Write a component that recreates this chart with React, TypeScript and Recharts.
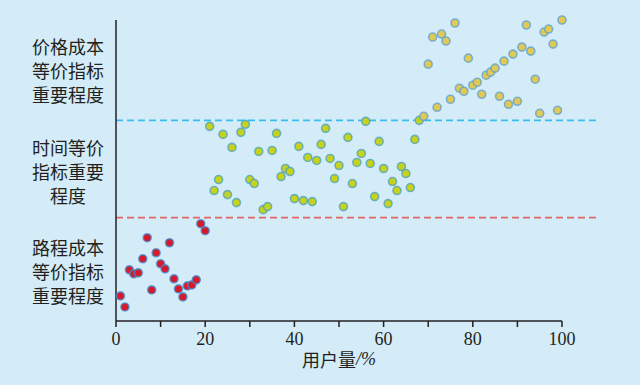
import { ScatterChart, Scatter, XAxis, YAxis, ReferenceLine, Label } from 'recharts'

// x: share of users (%), y: importance band score (0-1 route, 1-2 time, 2-3 price)
const routeShare = [1, 2, 3, 4, 5, 6, 7, 8, 9, 10, 11, 12, 13, 14, 15, 16, 17, 18, 19, 20]
const routeScore = [0.25, 0.14, 0.51, 0.47, 0.48, 0.62, 0.83, 0.31, 0.68, 0.57, 0.52, 0.78, 0.42, 0.32, 0.24, 0.35, 0.36, 0.41, 0.97, 0.9]

const timeShare = [
  21, 22, 23, 24, 25, 26, 27, 28, 29, 30, 31, 32, 33, 34, 35, 36,
  37, 38, 39, 40, 41, 42, 43, 44, 45, 46, 47, 48, 49, 50, 51, 52,
  53, 54, 55, 56, 57, 58, 59, 60, 61, 62, 63, 64, 65, 66, 67, 68,
]
const timeScore = [
  1.94, 1.3, 1.41, 1.86, 1.26, 1.73, 1.18, 1.88, 1.96, 1.41, 1.37, 1.69, 1.11, 1.14, 1.7, 1.87,
  1.44, 1.52, 1.49, 1.22, 1.74, 1.2, 1.63, 1.19, 1.6, 1.76, 1.92, 1.62, 1.42, 1.55, 1.14, 1.83,
  1.37, 1.58, 1.67, 1.99, 1.57, 1.24, 1.79, 1.52, 1.17, 1.39, 1.3, 1.54, 1.47, 1.33, 1.81, 2.0,
]

const priceShare = [
  69, 70, 71, 72, 73, 74, 75, 76, 77, 78, 79, 80, 81, 82, 83, 84,
  85, 86, 87, 88, 89, 90, 91, 92, 93, 94, 95, 96, 97, 98, 99, 100,
]
const priceScore = [
  2.04, 2.56, 2.83, 2.13, 2.86, 2.79, 2.21, 2.97, 2.32, 2.29, 2.62, 2.35, 2.38, 2.26, 2.45, 2.48,
  2.52, 2.24, 2.59, 2.16, 2.66, 2.19, 2.73, 2.95, 2.69, 2.41, 2.07, 2.88, 2.91, 2.76, 2.1, 3.0,
]

const xTicks = [0, 10, 20, 30, 40, 50, 60, 70, 80, 90, 100]
const bandTicks = [0.5, 1.5, 2.5]
const bandLabels = [
  ['路程成本', '等价指标', '重要程度'],
  ['时间等价', '指标重要', '程度'],
  ['价格成本', '等价指标', '重要程度'],
]
const routeTimeBorder = 1.03
const timePriceBorder = 2.0

const zip = (xs: number[], ys: number[]) => xs.map((x, i) => ({ x, y: ys[i] }))
const routeData = zip(routeShare, routeScore)
const timeData = zip(timeShare, timeScore)
const priceData = zip(priceShare, priceScore)

const INK = '#231f20'
const SERIF = "'Liberation Serif', 'Times New Roman', serif"
const CJK = "'Noto Sans CJK SC', sans-serif"

const dot = (fill: string, ring: string) => (p: any) => (
  <circle cx={p.cx} cy={p.cy} r={4} fill={fill} stroke={ring} strokeWidth={1.6} strokeOpacity={0.75} />
)

const XTick = ({ x, y, payload }: any) =>
  payload.value % 20 === 0 ? (
    <text x={x} y={y} dy="0.71em" textAnchor="middle" fill={INK} fontSize={18} fontFamily={SERIF}>
      {payload.value}
    </text>
  ) : <g />

const BandTick = ({ x, y, payload }: any) => {
  const lines = bandLabels[bandTicks.indexOf(payload.value)] ?? []
  return (
    <g>
      {lines.map((line, i) => (
        <text key={i} x={x - 48} y={y + (i - 1) * 24} textAnchor="middle" dominantBaseline="central"
          fill={INK} fontSize={18} fontFamily={CJK}>
          {line}
        </text>
      ))}
    </g>
  )
}

const AxisTitle = ({ viewBox }: any) => (
  <text x={viewBox.x + viewBox.width / 2} y={viewBox.y + 38} textAnchor="middle" dominantBaseline="central"
    fill={INK} fontSize={18}>
    <tspan fontFamily={CJK}>用户量</tspan>
    <tspan fontFamily={SERIF} fontStyle="italic">/%</tspan>
  </text>
)

export default function App() {
  return (
    <div style={{ position: 'fixed', left: 0, top: 0, width: 640, height: 385, background: '#d4ecf8' }}>
      <ScatterChart width={640} height={385} margin={{ top: 20, right: 78, bottom: 34, left: 114 }}>
        <XAxis type="number" dataKey="x" domain={[0, 100]} ticks={xTicks} interval={0}
          height={30} tickSize={6} tickMargin={5} tick={<XTick />}
          axisLine={{ stroke: INK, strokeWidth: 1.5 }} tickLine={{ stroke: INK, strokeWidth: 1.5 }}>
          <Label content={<AxisTitle />} />
        </XAxis>
        <YAxis type="number" dataKey="y" domain={[0, 3]} ticks={bandTicks} interval={0}
          width={2} tickSize={0} tickMargin={0} tickLine={false} tick={<BandTick />}
          axisLine={{ stroke: INK, strokeWidth: 1.5 }} />
        <ReferenceLine segment={[{ x: 0, y: routeTimeBorder }, { x: 108.5, y: routeTimeBorder }]}
          ifOverflow="visible" stroke="#e36464" strokeWidth={1.6} strokeDasharray="7 4" />
        <ReferenceLine segment={[{ x: 0, y: timePriceBorder }, { x: 108.5, y: timePriceBorder }]}
          ifOverflow="visible" stroke="#36bdee" strokeWidth={1.6} strokeDasharray="7 4" />
        <Scatter data={routeData} shape={dot('#d8192b', '#3d8fd0')} isAnimationActive={false} />
        <Scatter data={timeData} shape={dot('#c6d21c', '#4aa0c4')} isAnimationActive={false} />
        <Scatter data={priceData} shape={dot('#e0c955', '#5a9fd4')} isAnimationActive={false} />
      </ScatterChart>
    </div>
  )
}
